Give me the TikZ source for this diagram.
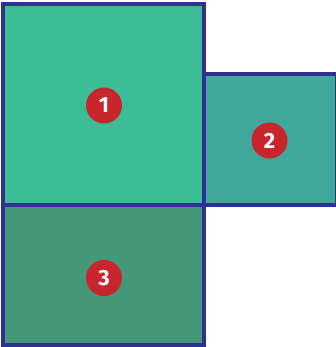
\documentclass[tikz,border=0pt]{standalone}
\usepackage{fontspec}
\setsansfont{Fira Sans}
\definecolor{fillA}{HTML}{3BBD96}
\definecolor{fillB}{HTML}{3FA89B}
\definecolor{fillC}{HTML}{45977A}
\definecolor{edge}{HTML}{2E3192}
\definecolor{badge}{HTML}{C9252C}
\begin{document}
\begin{tikzpicture}[x=1pt,y=-1pt,
  panel/.style={draw=edge,line width=4pt},
  badgenode/.style={circle,fill=badge,text=white,minimum size=36pt,inner sep=0pt,
    font=\sffamily\bfseries\fontsize{22}{22}\selectfont}]
\useasboundingbox (0,0) rectangle (335,347);
\path[panel,fill=fillB] (204,74.5) rectangle (336.5,205);
\path[panel,fill=fillA] (3,4.5) rectangle (204,205);
\path[panel,fill=fillC] (3,205) rectangle (204,345);
\node[badgenode] (b1) at (104,105.5) {1};
\node[badgenode] (b2) at (269.5,140.5) {2};
\node[badgenode] (b3) at (104,278) {3};
\end{tikzpicture}
\end{document}
